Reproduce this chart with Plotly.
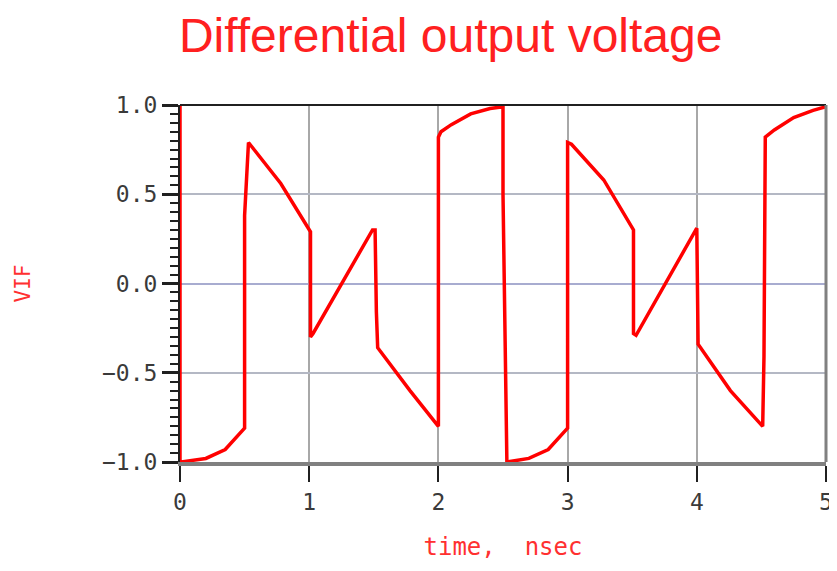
import plotly.graph_objects as go

# Differential output voltage waveform (time in nsec, VIF in volts)
time_ns = [0.0, 0.0, 0.0, 0.01, 0.2, 0.35, 0.5, 0.5, 0.53, 0.78, 1.01,
           1.01, 1.03, 1.49, 1.51, 1.52, 1.53, 1.78, 2.0,
           2.0, 2.02, 2.1, 2.25, 2.4, 2.5, 2.5, 2.53,
           2.7, 2.85, 3.0, 3.0, 3.03, 3.28, 3.51,
           3.51, 3.53, 4.0, 4.01, 4.02, 4.26, 4.51,
           4.52, 4.53, 4.6, 4.75, 4.9, 5.0]
vif = [0.0, 1.0, -1.0, -1.0, -0.98, -0.93, -0.81, 0.38, 0.79, 0.56, 0.29,
       -0.30, -0.28, 0.30, 0.30, -0.16, -0.36, -0.60, -0.80,
       0.82, 0.85, 0.89, 0.95, 0.98, 0.99, 0.50, -1.0,
       -0.98, -0.93, -0.81, 0.79, 0.78, 0.58, 0.30,
       -0.28, -0.29, 0.31, -0.34, -0.35, -0.60, -0.80,
       -0.41, 0.82, 0.86, 0.93, 0.97, 0.99]

x_ticks = [0, 1, 2, 3, 4, 5]
x_tick_labels = ["0", "1", "2", "3", "4", "5"]
y_ticks = [-1.0, -0.5, 0.0, 0.5, 1.0]
y_tick_labels = ["\u22121.0", "\u22120.5", "0.0", "0.5", "1.0"]

fig = go.Figure()
fig.add_trace(go.Scatter(x=time_ns, y=vif, mode="lines",
                         line=dict(color="#ff0000", width=3.5),
                         showlegend=False, hoverinfo="skip"))

mono = "DejaVu Sans Mono"
fig.update_layout(
    width=829, height=563,
    margin=dict(l=172, r=11, t=97, b=109, autoexpand=False),
    paper_bgcolor="white", plot_bgcolor="white",
    title=dict(text="Differential output voltage",
               font=dict(family="Liberation Sans", size=48, color="#ff2020"),
               x=0.534, xanchor="center", y=0.952, yanchor="middle",
               automargin=False),
    xaxis=dict(range=[0, 5], tickvals=x_ticks, ticktext=x_tick_labels,
               automargin=False,
               showgrid=True, gridcolor="#a8a8a8", gridwidth=1.5,
               zeroline=False, showline=True, linecolor="#808080", linewidth=4,
               ticks="outside", ticklen=16, tickwidth=2, tickcolor="#202020",
               tickfont=dict(family=mono, size=23, color="#3a3a3a"),
               title=dict(text="time,  nsec",
                          font=dict(family=mono, size=24, color="#ff3030"),
                          standoff=26)),
    yaxis=dict(range=[-1.0, 1.0], tickvals=y_ticks, ticktext=y_tick_labels,
               automargin=False,
               showgrid=True, gridcolor="#b4b8c4", gridwidth=2,
               zeroline=True, zerolinecolor="#a8acd0", zerolinewidth=2,
               showline=True, linecolor="#202020", linewidth=2,
               ticks="outside", ticklen=16, tickwidth=2.5, tickcolor="#202020",
               minor=dict(dtick=0.05, ticks="outside", ticklen=8, tickwidth=2,
                          tickcolor="#202020", showgrid=False),
               tickfont=dict(family=mono, size=23, color="#3a3a3a"),
               title=dict(text="VIF",
                          font=dict(family=mono, size=21, color="#ff3030"),
                          standoff=66)),
    shapes=[
        dict(type="line", xref="paper", yref="paper", x0=0, x1=1, y0=1, y1=1,
             line=dict(color="#202020", width=2)),
        dict(type="line", xref="paper", yref="paper", x0=1, x1=1, y0=0, y1=1,
             line=dict(color="#808080", width=3)),
    ],
)

fig.write_html("out.html")
